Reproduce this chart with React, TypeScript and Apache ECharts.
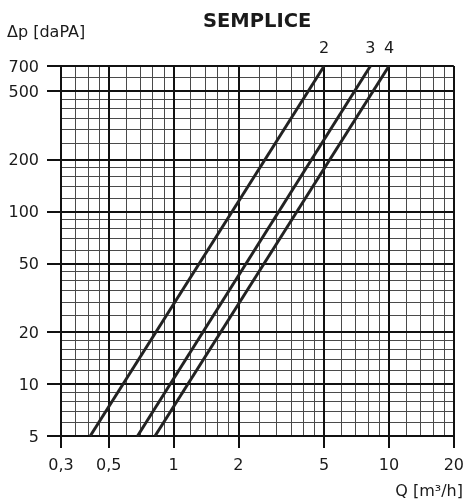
import React, { useEffect, useRef } from "react";
import * as echarts from "echarts";

const xTickValues = [0.3, 0.5, 1, 2, 5, 10, 20];
const yTickValues = [5, 10, 20, 50, 100, 200, 500, 700];
const xMajorGrid = [0.5, 1, 2, 5, 10];
const xMinorGrid = [0.35, 0.4, 0.45, 0.6, 0.7, 0.8, 0.9, 1.2, 1.4, 1.6, 1.8, 2.5, 3, 3.5, 4, 4.5, 6, 7, 8, 9, 12, 14, 16, 18];
const yMajorGrid = [10, 20, 50, 100, 200, 500];
const yMinorGrid = [6, 7, 8, 9, 12, 14, 16, 18, 25, 30, 35, 40, 45, 60, 70, 80, 90, 120, 140, 160, 180, 250, 300, 350, 400, 450, 600];
const xFrame = [0.3, 20];
const yFrame = [5, 700];

const curveNames = ["2", "3", "4"];
const curve2 = [[0.41, 5], [5, 700]];
const curve3 = [[0.68, 5], [8.2, 700]];
const curve4 = [[0.82, 5], [10, 700]];
const curves = [curve2, curve3, curve4];

const FONT = "DejaVu Sans";
const INK = "#1a1a1a";

export default function App() {
  const ref = useRef<HTMLDivElement>(null);
  useEffect(() => {
    if (!ref.current) return;
    const chart = echarts.init(ref.current, undefined, { renderer: "svg" });
    const minorStyle = { color: "#4a4a4a", width: 1, type: "solid" };
    const majorStyle = { color: "#111", width: 2, type: "solid" };
    const gridLines = [
      ...xMinorGrid.map((v) => ({ xAxis: v, lineStyle: minorStyle })),
      ...yMinorGrid.map((v) => ({ yAxis: v, lineStyle: minorStyle })),
      ...xMajorGrid.map((v) => ({ xAxis: v, lineStyle: majorStyle })),
      ...yMajorGrid.map((v) => ({ yAxis: v, lineStyle: majorStyle })),
      ...xFrame.map((v) => ({ xAxis: v, lineStyle: majorStyle })),
      ...yFrame.map((v) => ({ yAxis: v, lineStyle: majorStyle })),
    ];
    const fmt = (v: number) => String(v).replace(".", ",");
    chart.setOption({
      animation: false,
      title: {
        text: "SEMPLICE",
        left: 203,
        top: 10,
        padding: 0,
        textStyle: { fontFamily: FONT, fontWeight: "bold", fontSize: 19.5, color: INK },
      },
      grid: { left: 61, right: 11, top: 66, bottom: 63, containLabel: false },
      xAxis: {
        type: "log",
        logBase: 10,
        min: 0.3,
        max: 20,
        axisLine: { show: true, lineStyle: { color: "#111", width: 2 } },
        axisTick: { show: true, length: 12, customValues: xTickValues, lineStyle: { color: "#111", width: 2 } },
        axisLabel: {
          customValues: xTickValues,
          formatter: fmt,
          fontSize: 16,
          fontFamily: FONT,
          color: INK,
          margin: 20,
          showMinLabel: true,
          showMaxLabel: true,
        },
        splitLine: { show: false },
        minorTick: { show: false },
        minorSplitLine: { show: false },
      },
      yAxis: {
        type: "log",
        logBase: 10,
        min: 5,
        max: 700,
        axisLine: { show: true, lineStyle: { color: "#111", width: 2 } },
        axisTick: { show: true, length: 14, customValues: yTickValues, lineStyle: { color: "#111", width: 2 } },
        axisLabel: {
          customValues: yTickValues,
          formatter: fmt,
          fontSize: 16,
          fontFamily: FONT,
          color: INK,
          margin: 22,
          showMinLabel: true,
          showMaxLabel: true,
        },
        splitLine: { show: false },
        minorTick: { show: false },
        minorSplitLine: { show: false },
      },
      graphic: [
        {
          type: "text",
          left: 7,
          top: 23,
          style: { text: "Δp [daPA]", fontSize: 16, fontFamily: FONT, fill: INK },
        },
        {
          type: "text",
          right: 4,
          top: 482,
          style: { text: "Q [m³/h]", fontSize: 16, fontFamily: FONT, fill: INK },
        },
      ],
      series: [
        {
          type: "line",
          z: 1,
          data: [[0.3, 5]],
          symbol: "none",
          lineStyle: { width: 0 },
          silent: true,
          markLine: {
            silent: true,
            symbol: ["none", "none"],
            label: { show: false },
            animation: false,
            data: gridLines,
          },
        },
        ...curves.map((c, i) => ({
          type: "line",
          z: 5,
          symbol: "circle",
          symbolSize: 1,
          showSymbol: true,
          itemStyle: { color: "#222" },
          lineStyle: { color: "#222", width: 3 },
          data: c.map((p, j) =>
            j === c.length - 1
              ? {
                  value: p,
                  label: {
                    show: true,
                    formatter: curveNames[i],
                    position: "top",
                    distance: 10,
                    fontSize: 16,
                    fontFamily: FONT,
                    color: INK,
                  },
                }
              : p
          ),
        })),
      ],
    });
    return () => chart.dispose();
  }, []);
  return <div ref={ref} style={{ position: "fixed", left: 0, top: 0, width: 467, height: 499 }} />;
}
